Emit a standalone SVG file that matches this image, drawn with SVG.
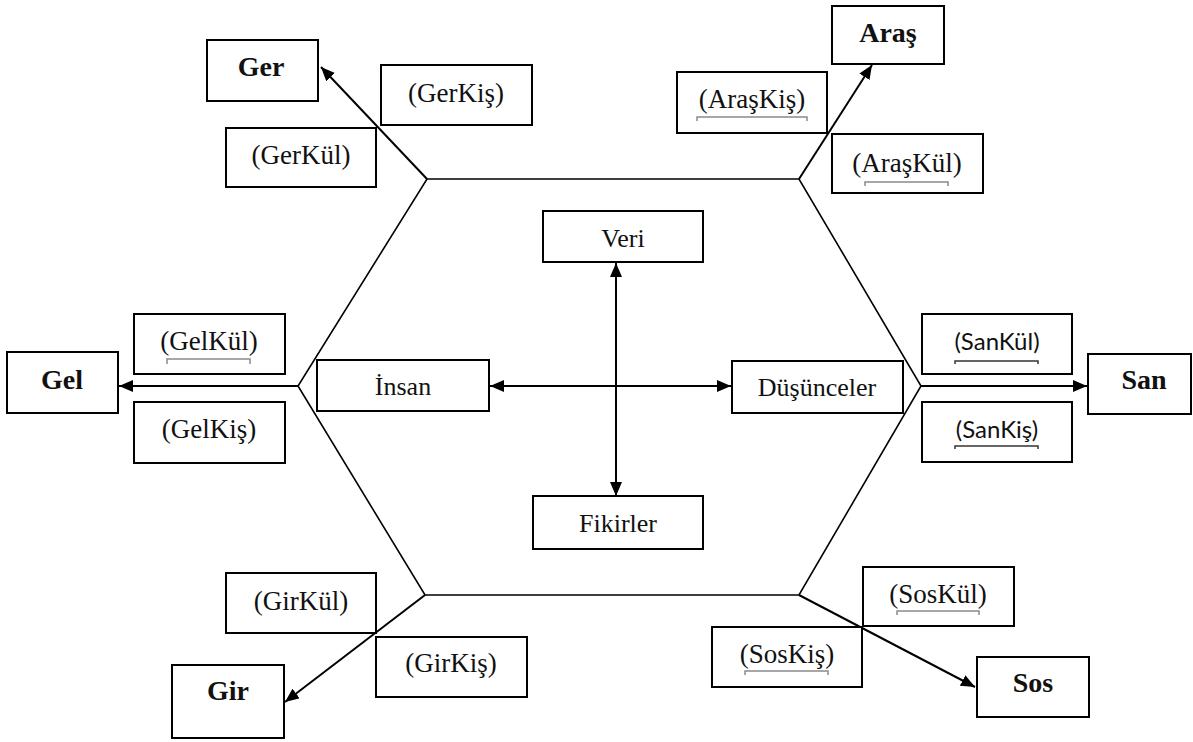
<svg xmlns="http://www.w3.org/2000/svg" width="1193" height="742" viewBox="0 0 1193 742">
<defs>
<style>
rect.b{fill:#fff;stroke:#000;stroke-width:2}
text{font-family:"Liberation Serif","Times New Roman",serif;fill:#111;text-anchor:middle}
.p{font-size:27px}
.c{font-size:26px}
.h{font-size:28px;font-weight:bold}
.s{font-family:Lato,"Open Sans",sans-serif;font-size:24px}
.ln{stroke:#000;stroke-width:2;fill:none}
.hex{stroke:#000;stroke-width:1.6;fill:none}
.br{stroke:#8a8a8a;stroke-width:1.5;fill:none}
.bd{stroke:#333;stroke-width:1.5;fill:none}
</style>
<marker id="ah" markerUnits="userSpaceOnUse" markerWidth="15" markerHeight="13" refX="14" refY="6" orient="auto-start-reverse" viewBox="0 0 15 13">
<path d="M0,0 L14,6 L0,12 z" fill="#000"/>
</marker>
</defs>
<g id="connectors">
<polygon class="hex" points="427,179 799,179 921,386 799,595 425,595 298,386"/>
<line class="ln" x1="427" y1="179" x2="321" y2="67" marker-end="url(#ah)"/>
<line class="ln" x1="799" y1="179" x2="872" y2="65" marker-end="url(#ah)"/>
<line class="ln" x1="921" y1="386" x2="1087" y2="386" marker-end="url(#ah)"/>
<line class="ln" x1="799" y1="595" x2="975" y2="687" marker-end="url(#ah)"/>
<line class="ln" x1="425" y1="595" x2="285" y2="702" marker-end="url(#ah)"/>
<line class="ln" x1="298" y1="386" x2="119" y2="386" marker-end="url(#ah)"/>
<line class="ln" x1="616" y1="263" x2="616" y2="496" marker-start="url(#ah)" marker-end="url(#ah)"/>
<line class="ln" x1="490" y1="386" x2="731" y2="386" marker-start="url(#ah)" marker-end="url(#ah)"/>
</g>
<g id="ger"><rect class="b" x="207" y="40" width="111" height="61"/><text class="h" x="261" y="76">Ger</text></g>
<g id="gerkis"><rect class="b" x="381" y="65" width="151" height="60"/><text class="p" x="456" y="102">(GerKiş)</text></g>
<g id="gerkul"><rect class="b" x="226" y="128" width="150" height="59"/><text class="p" x="301" y="164">(GerKül)</text></g>
<g id="aras"><rect class="b" x="832" y="6" width="112" height="58"/><text class="h" x="888" y="42">Araş</text></g>
<g id="araskis"><rect class="b" x="677" y="72" width="150" height="61"/><text class="p" x="752" y="108">(AraşKiş)</text><path class="br" d="M697,121 V117 H807 V121"/></g>
<g id="araskul"><rect class="b" x="832" y="134" width="151" height="59"/><text class="p" x="907" y="172">(AraşKül)</text><path class="br" d="M865,186 V182 H948 V186"/></g>
<g id="gel"><rect class="b" x="7" y="352" width="111" height="61"/><text class="h" x="62" y="389">Gel</text></g>
<g id="gelkul"><rect class="b" x="134" y="314" width="151" height="60"/><text class="p" x="209" y="350">(GelKül)</text><path class="br" d="M167,364 V359 H250 V364"/></g>
<g id="gelkis"><rect class="b" x="134" y="402" width="151" height="61"/><text class="p" x="209" y="438">(GelKiş)</text></g>
<g id="san"><rect class="b" x="1088" y="354" width="103" height="60"/><text class="h" x="1144" y="389">San</text></g>
<g id="sankul"><rect class="b" x="922" y="314" width="150" height="60"/><text class="s" x="997" y="350">(SanKül)</text><path class="bd" d="M955,364 V361 H1038 V364"/></g>
<g id="sankis"><rect class="b" x="922" y="402" width="150" height="60"/><text class="s" x="997" y="438">(SanKiş)</text><path class="bd" d="M955,449 V446 H1038 V449"/></g>
<g id="sos"><rect class="b" x="977" y="657" width="112" height="60"/><text class="h" x="1033" y="692">Sos</text></g>
<g id="soskul"><rect class="b" x="863" y="567" width="151" height="59"/><text class="p" x="938" y="603">(SosKül)</text><path class="br" d="M897,615 V611 H979 V615"/></g>
<g id="soskis"><rect class="b" x="712" y="627" width="150" height="60"/><text class="p" x="787" y="663">(SosKiş)</text><path class="br" d="M745,675 V671 H828 V675"/></g>
<g id="gir"><rect class="b" x="172" y="665" width="112" height="73"/><text class="h" x="228" y="700">Gir</text></g>
<g id="girkul"><rect class="b" x="226" y="573" width="150" height="60"/><text class="p" x="301" y="610">(GirKül)</text></g>
<g id="girkis"><rect class="b" x="376" y="637" width="151" height="60"/><text class="p" x="451" y="672">(GirKiş)</text></g>
<g id="veri"><rect class="b" x="543" y="211" width="160" height="51"/><text class="c" x="623" y="247">Veri</text></g>
<g id="fikirler"><rect class="b" x="533" y="496" width="170" height="53"/><text class="c" x="618" y="532">Fikirler</text></g>
<g id="insan"><rect class="b" x="317" y="360" width="172" height="51"/><text class="c" x="403" y="395">İnsan</text></g>
<g id="dusunceler"><rect class="b" x="732" y="361" width="171" height="52"/><text class="c" x="817" y="396">Düşünceler</text></g>
</svg>
